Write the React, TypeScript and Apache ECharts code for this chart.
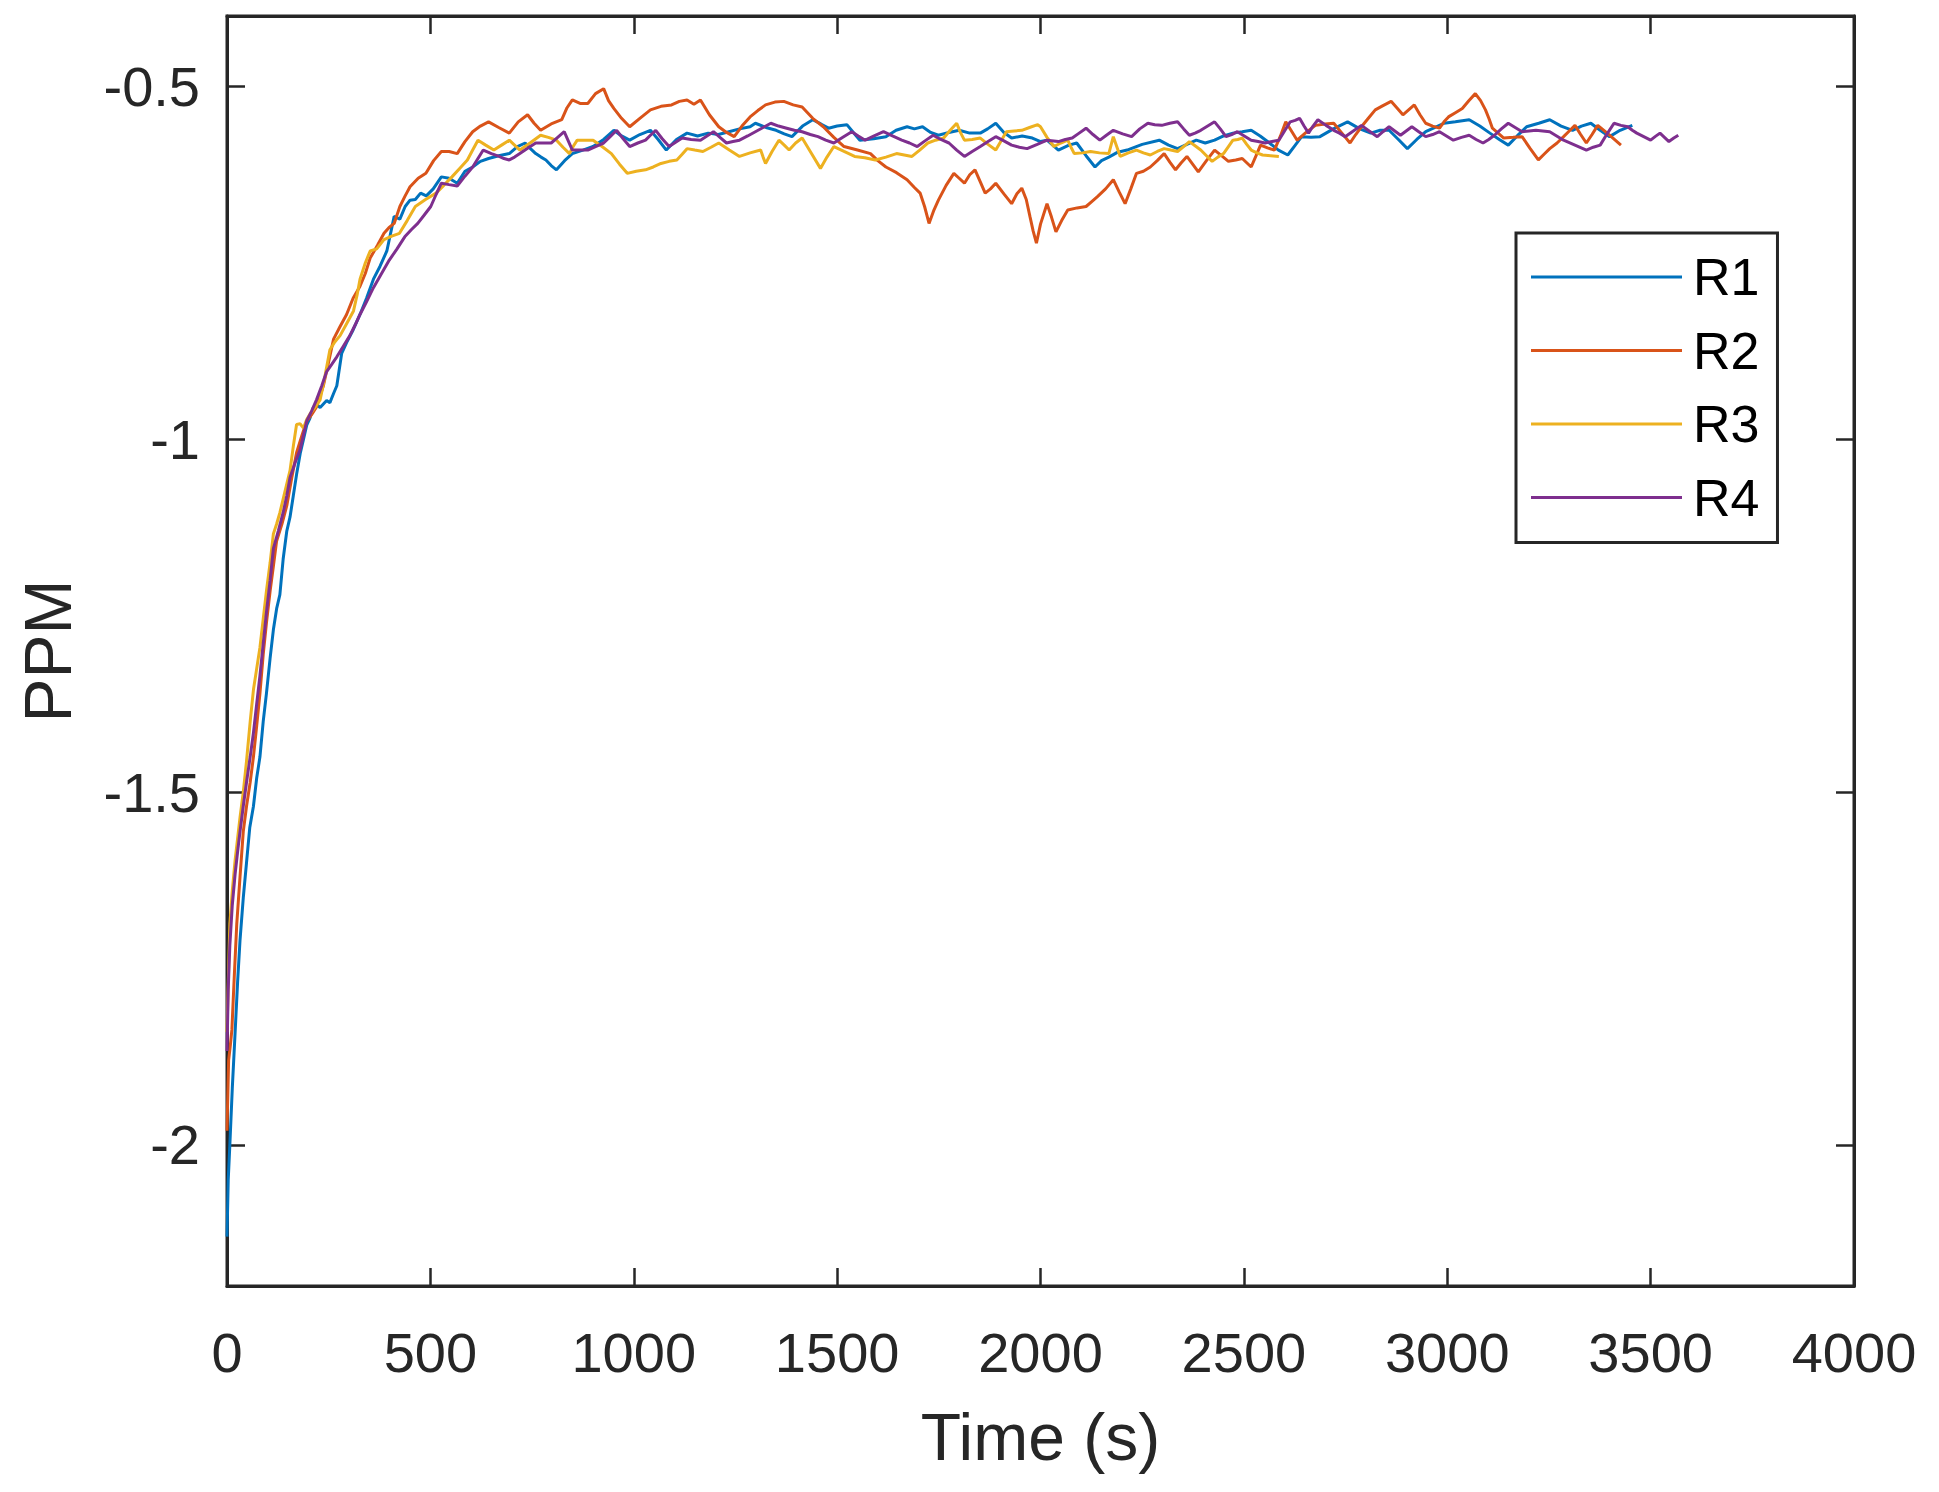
import React, { useEffect, useRef } from "react";
import * as echarts from "echarts";

const xTicks = [0, 500, 1000, 1500, 2000, 2500, 3000, 3500, 4000];
const yTicks = [-2, -1.5, -1, -0.5];
const seriesNames = ["R1", "R2", "R3", "R4"];
const seriesColors = ["#0072BD", "#D95319", "#EDB120", "#7E2F8E"];

const R1 = [[0,-2.13],[3,-2.05],[7,-2.0],[13,-1.92],[20,-1.84],[26,-1.77],[32,-1.71],[40,-1.65],[48,-1.6],[56,-1.55],[65,-1.52],[73,-1.48],[81,-1.45],[89,-1.4],[97,-1.36],[106,-1.31],[114,-1.27],[122,-1.24],[130,-1.22],[138,-1.17],[147,-1.13],[155,-1.11],[163,-1.08],[171,-1.05],[180,-1.02],[188,-1.0],[196,-0.98],[204,-0.97],[212,-0.955],[220,-0.95],[229,-0.955],[237,-0.95],[245,-0.945],[253,-0.948],[262,-0.935],[270,-0.924],[282,-0.878],[294,-0.863],[310,-0.845],[327,-0.823],[343,-0.8],[360,-0.773],[376,-0.755],[393,-0.733],[411,-0.684],[425,-0.688],[438,-0.67],[450,-0.661],[463,-0.66],[476,-0.651],[490,-0.655],[507,-0.645],[527,-0.628],[546,-0.63],[566,-0.637],[585,-0.62],[604,-0.614],[623,-0.606],[643,-0.602],[668,-0.598],[694,-0.595],[714,-0.585],[733,-0.58],[746,-0.588],[759,-0.595],[772,-0.6],[784,-0.604],[797,-0.612],[810,-0.618],[830,-0.605],[849,-0.595],[875,-0.59],[900,-0.585],[926,-0.575],[951,-0.562],[970,-0.57],[990,-0.576],[1015,-0.568],[1041,-0.562],[1060,-0.575],[1080,-0.59],[1105,-0.575],[1131,-0.566],[1157,-0.57],[1183,-0.566],[1208,-0.568],[1234,-0.564],[1260,-0.56],[1286,-0.557],[1299,-0.552],[1325,-0.558],[1350,-0.562],[1370,-0.567],[1389,-0.571],[1415,-0.556],[1440,-0.547],[1460,-0.553],[1479,-0.559],[1500,-0.556],[1524,-0.554],[1540,-0.565],[1556,-0.576],[1590,-0.574],[1620,-0.571],[1645,-0.562],[1672,-0.557],[1690,-0.56],[1710,-0.557],[1730,-0.565],[1749,-0.569],[1775,-0.565],[1800,-0.562],[1826,-0.566],[1852,-0.566],[1870,-0.56],[1890,-0.552],[1910,-0.565],[1929,-0.573],[1955,-0.57],[1980,-0.573],[2000,-0.578],[2016,-0.576],[2044,-0.59],[2070,-0.583],[2089,-0.58],[2112,-0.598],[2134,-0.614],[2150,-0.605],[2168,-0.6],[2190,-0.593],[2213,-0.59],[2250,-0.582],[2292,-0.576],[2315,-0.583],[2337,-0.588],[2360,-0.582],[2383,-0.576],[2405,-0.58],[2428,-0.576],[2450,-0.57],[2473,-0.566],[2496,-0.564],[2518,-0.562],[2540,-0.57],[2563,-0.58],[2585,-0.59],[2608,-0.597],[2625,-0.584],[2642,-0.571],[2665,-0.572],[2687,-0.571],[2720,-0.56],[2755,-0.55],[2785,-0.56],[2812,-0.566],[2835,-0.562],[2857,-0.562],[2880,-0.575],[2902,-0.588],[2925,-0.575],[2947,-0.564],[2970,-0.558],[2992,-0.552],[3020,-0.55],[3054,-0.547],[3080,-0.556],[3105,-0.566],[3128,-0.575],[3150,-0.583],[3172,-0.57],[3195,-0.557],[3225,-0.552],[3252,-0.547],[3280,-0.556],[3308,-0.562],[3330,-0.556],[3353,-0.552],[3376,-0.562],[3399,-0.571],[3425,-0.562],[3455,-0.555]];

const R2 = [[0,-1.98],[4,-1.88],[8,-1.86],[12,-1.837],[18,-1.76],[24,-1.687],[32,-1.62],[40,-1.556],[48,-1.52],[57,-1.486],[65,-1.45],[73,-1.406],[81,-1.36],[89,-1.305],[97,-1.26],[106,-1.215],[114,-1.18],[122,-1.144],[135,-1.12],[147,-1.094],[159,-1.055],[171,-1.019],[184,-0.995],[196,-0.974],[208,-0.965],[220,-0.954],[237,-0.924],[250,-0.89],[262,-0.858],[278,-0.84],[294,-0.823],[310,-0.8],[327,-0.783],[340,-0.765],[352,-0.743],[370,-0.725],[386,-0.708],[398,-0.7],[411,-0.694],[425,-0.67],[438,-0.655],[450,-0.642],[470,-0.63],[489,-0.623],[508,-0.605],[527,-0.592],[546,-0.592],[566,-0.595],[585,-0.578],[604,-0.564],[623,-0.556],[643,-0.55],[668,-0.558],[694,-0.566],[716,-0.55],[739,-0.54],[755,-0.552],[771,-0.562],[797,-0.553],[823,-0.547],[836,-0.53],[849,-0.519],[868,-0.524],[887,-0.524],[906,-0.51],[926,-0.503],[938,-0.52],[951,-0.531],[970,-0.545],[990,-0.557],[1015,-0.545],[1041,-0.533],[1067,-0.528],[1093,-0.526],[1112,-0.521],[1131,-0.519],[1148,-0.525],[1164,-0.519],[1186,-0.54],[1209,-0.557],[1228,-0.565],[1247,-0.571],[1266,-0.556],[1286,-0.543],[1305,-0.534],[1324,-0.526],[1347,-0.522],[1369,-0.521],[1392,-0.526],[1414,-0.529],[1440,-0.545],[1466,-0.557],[1492,-0.572],[1517,-0.585],[1550,-0.59],[1582,-0.595],[1600,-0.605],[1620,-0.614],[1646,-0.622],[1672,-0.632],[1690,-0.643],[1704,-0.651],[1715,-0.67],[1726,-0.694],[1738,-0.675],[1749,-0.661],[1768,-0.64],[1787,-0.623],[1800,-0.63],[1813,-0.637],[1826,-0.625],[1839,-0.618],[1852,-0.635],[1864,-0.651],[1877,-0.645],[1890,-0.637],[1910,-0.652],[1929,-0.666],[1942,-0.652],[1954,-0.644],[1965,-0.66],[1974,-0.684],[1982,-0.705],[1990,-0.722],[2000,-0.695],[2016,-0.666],[2027,-0.685],[2038,-0.706],[2052,-0.69],[2067,-0.675],[2090,-0.672],[2112,-0.67],[2126,-0.663],[2140,-0.656],[2160,-0.645],[2179,-0.632],[2194,-0.65],[2208,-0.666],[2222,-0.645],[2236,-0.623],[2253,-0.62],[2270,-0.614],[2287,-0.605],[2304,-0.595],[2318,-0.607],[2332,-0.618],[2346,-0.608],[2360,-0.599],[2374,-0.61],[2388,-0.621],[2408,-0.605],[2428,-0.59],[2445,-0.598],[2462,-0.606],[2480,-0.604],[2496,-0.602],[2507,-0.608],[2518,-0.614],[2530,-0.598],[2541,-0.583],[2558,-0.587],[2575,-0.59],[2590,-0.57],[2603,-0.55],[2617,-0.563],[2631,-0.576],[2653,-0.565],[2676,-0.555],[2700,-0.553],[2721,-0.552],[2741,-0.566],[2761,-0.58],[2775,-0.568],[2789,-0.557],[2806,-0.545],[2823,-0.533],[2842,-0.527],[2862,-0.521],[2876,-0.53],[2891,-0.54],[2905,-0.533],[2919,-0.526],[2933,-0.54],[2947,-0.552],[2964,-0.556],[2981,-0.559],[2992,-0.55],[3003,-0.543],[3020,-0.537],[3037,-0.531],[3053,-0.52],[3069,-0.51],[3082,-0.52],[3094,-0.533],[3103,-0.546],[3111,-0.559],[3125,-0.566],[3139,-0.573],[3162,-0.572],[3184,-0.571],[3204,-0.588],[3224,-0.604],[3238,-0.596],[3252,-0.588],[3270,-0.58],[3286,-0.571],[3300,-0.563],[3314,-0.555],[3328,-0.568],[3342,-0.58],[3356,-0.568],[3370,-0.555],[3385,-0.562],[3399,-0.569],[3413,-0.576],[3427,-0.583]];

const R3 = [[0,-1.84],[4,-1.75],[7,-1.687],[13,-1.64],[20,-1.596],[26,-1.566],[32,-1.536],[40,-1.5],[48,-1.456],[57,-1.4],[65,-1.355],[73,-1.325],[81,-1.295],[89,-1.255],[97,-1.215],[106,-1.175],[114,-1.134],[122,-1.12],[130,-1.104],[142,-1.075],[155,-1.044],[163,-1.01],[171,-0.979],[180,-0.978],[188,-0.984],[196,-0.972],[204,-0.964],[216,-0.955],[229,-0.944],[241,-0.91],[253,-0.873],[265,-0.862],[278,-0.853],[295,-0.835],[311,-0.818],[320,-0.795],[327,-0.773],[340,-0.75],[352,-0.733],[368,-0.73],[386,-0.717],[405,-0.712],[424,-0.708],[443,-0.69],[463,-0.67],[488,-0.66],[514,-0.651],[533,-0.64],[553,-0.628],[572,-0.616],[591,-0.604],[604,-0.59],[617,-0.576],[636,-0.583],[656,-0.59],[675,-0.583],[694,-0.576],[707,-0.583],[720,-0.59],[745,-0.58],[771,-0.569],[790,-0.572],[810,-0.576],[826,-0.586],[842,-0.595],[851,-0.585],[861,-0.576],[880,-0.576],[900,-0.576],[922,-0.585],[945,-0.595],[965,-0.61],[984,-0.623],[1006,-0.62],[1029,-0.618],[1048,-0.614],[1067,-0.609],[1087,-0.606],[1106,-0.604],[1119,-0.596],[1131,-0.588],[1150,-0.59],[1170,-0.592],[1190,-0.586],[1209,-0.58],[1235,-0.59],[1260,-0.599],[1286,-0.594],[1312,-0.59],[1318,-0.6],[1324,-0.609],[1340,-0.592],[1357,-0.576],[1370,-0.583],[1382,-0.59],[1398,-0.58],[1414,-0.573],[1437,-0.595],[1459,-0.616],[1475,-0.6],[1492,-0.585],[1517,-0.592],[1543,-0.599],[1568,-0.601],[1594,-0.604],[1620,-0.6],[1646,-0.595],[1665,-0.597],[1684,-0.599],[1703,-0.59],[1723,-0.58],[1742,-0.576],[1762,-0.573],[1778,-0.562],[1794,-0.552],[1803,-0.565],[1813,-0.576],[1832,-0.575],[1852,-0.573],[1871,-0.582],[1890,-0.59],[1903,-0.577],[1916,-0.564],[1935,-0.563],[1954,-0.562],[1973,-0.558],[1993,-0.554],[2000,-0.557],[2016,-0.572],[2033,-0.585],[2050,-0.58],[2067,-0.576],[2075,-0.586],[2083,-0.595],[2103,-0.594],[2123,-0.592],[2145,-0.594],[2168,-0.595],[2179,-0.571],[2196,-0.599],[2216,-0.594],[2236,-0.59],[2253,-0.594],[2270,-0.597],[2287,-0.592],[2304,-0.588],[2320,-0.59],[2337,-0.592],[2352,-0.585],[2366,-0.578],[2380,-0.584],[2394,-0.59],[2408,-0.598],[2422,-0.606],[2436,-0.6],[2450,-0.595],[2462,-0.585],[2473,-0.576],[2485,-0.575],[2496,-0.573],[2507,-0.582],[2518,-0.59],[2532,-0.594],[2546,-0.597],[2566,-0.598],[2586,-0.599]];

const R4 = [[0,-1.867],[3,-1.78],[7,-1.717],[13,-1.66],[20,-1.616],[26,-1.585],[32,-1.556],[40,-1.52],[48,-1.486],[57,-1.45],[65,-1.416],[73,-1.375],[81,-1.335],[89,-1.29],[97,-1.245],[106,-1.2],[114,-1.155],[126,-1.13],[138,-1.104],[147,-1.08],[155,-1.054],[167,-1.034],[180,-1.014],[188,-0.994],[196,-0.974],[208,-0.96],[220,-0.944],[233,-0.924],[245,-0.904],[257,-0.894],[270,-0.883],[286,-0.868],[302,-0.853],[315,-0.838],[327,-0.823],[343,-0.805],[360,-0.785],[380,-0.765],[399,-0.746],[418,-0.73],[437,-0.713],[453,-0.703],[469,-0.694],[485,-0.682],[501,-0.67],[514,-0.653],[527,-0.637],[546,-0.639],[566,-0.641],[585,-0.627],[604,-0.614],[617,-0.602],[630,-0.59],[650,-0.595],[669,-0.599],[681,-0.602],[694,-0.604],[707,-0.6],[720,-0.595],[740,-0.587],[759,-0.58],[778,-0.58],[797,-0.58],[813,-0.572],[829,-0.564],[839,-0.577],[849,-0.59],[868,-0.59],[887,-0.59],[906,-0.585],[926,-0.58],[942,-0.571],[958,-0.562],[974,-0.574],[990,-0.585],[1010,-0.58],[1029,-0.576],[1041,-0.569],[1054,-0.562],[1070,-0.574],[1087,-0.585],[1103,-0.579],[1119,-0.573],[1141,-0.575],[1164,-0.576],[1180,-0.57],[1196,-0.564],[1212,-0.572],[1228,-0.58],[1244,-0.578],[1260,-0.576],[1280,-0.57],[1299,-0.564],[1318,-0.558],[1337,-0.552],[1356,-0.556],[1376,-0.559],[1395,-0.562],[1414,-0.564],[1434,-0.568],[1453,-0.571],[1472,-0.576],[1492,-0.58],[1514,-0.572],[1536,-0.564],[1552,-0.57],[1569,-0.576],[1591,-0.57],[1614,-0.564],[1636,-0.57],[1659,-0.576],[1678,-0.58],[1697,-0.585],[1716,-0.577],[1736,-0.569],[1755,-0.575],[1775,-0.58],[1794,-0.59],[1813,-0.599],[1832,-0.592],[1852,-0.585],[1871,-0.578],[1890,-0.571],[1910,-0.577],[1929,-0.583],[1948,-0.586],[1967,-0.588],[1992,-0.582],[2016,-0.576],[2044,-0.578],[2061,-0.575],[2078,-0.573],[2095,-0.566],[2112,-0.559],[2129,-0.568],[2146,-0.576],[2162,-0.569],[2179,-0.562],[2202,-0.567],[2224,-0.571],[2244,-0.56],[2264,-0.552],[2281,-0.554],[2298,-0.555],[2318,-0.552],[2337,-0.55],[2352,-0.56],[2366,-0.569],[2380,-0.566],[2394,-0.562],[2411,-0.556],[2428,-0.55],[2442,-0.56],[2456,-0.571],[2470,-0.568],[2484,-0.564],[2501,-0.57],[2518,-0.576],[2535,-0.578],[2552,-0.58],[2569,-0.578],[2586,-0.576],[2600,-0.563],[2614,-0.55],[2626,-0.548],[2637,-0.545],[2648,-0.556],[2659,-0.566],[2670,-0.556],[2682,-0.547],[2702,-0.555],[2721,-0.562],[2735,-0.566],[2749,-0.571],[2769,-0.563],[2789,-0.555],[2808,-0.563],[2828,-0.571],[2842,-0.564],[2857,-0.557],[2871,-0.563],[2885,-0.569],[2899,-0.563],[2913,-0.557],[2930,-0.564],[2947,-0.571],[2964,-0.568],[2981,-0.564],[2998,-0.57],[3015,-0.576],[3035,-0.572],[3054,-0.569],[3071,-0.575],[3088,-0.58],[3102,-0.575],[3116,-0.569],[3133,-0.56],[3150,-0.552],[3167,-0.558],[3184,-0.564],[3201,-0.563],[3218,-0.562],[3235,-0.563],[3252,-0.564],[3269,-0.57],[3286,-0.576],[3314,-0.583],[3342,-0.59],[3359,-0.586],[3376,-0.583],[3393,-0.567],[3410,-0.552],[3427,-0.555],[3444,-0.557],[3455,-0.562],[3466,-0.566],[3483,-0.571],[3500,-0.576],[3511,-0.571],[3523,-0.566],[3534,-0.572],[3545,-0.578],[3557,-0.573],[3568,-0.569]];

const seriesData = [R1, R2, R3, R4];

const AX = "#262626";
const FONT = "Liberation Sans, Arial, Helvetica, sans-serif";

export default function App() {
  const ref = useRef<HTMLDivElement>(null);
  useEffect(() => {
    if (!ref.current) return;
    const chart = echarts.init(ref.current, undefined, { renderer: "svg" });
    const tick = (vals: number[]) => ({
      show: true,
      inside: true,
      length: 18,
      customValues: vals,
      lineStyle: { color: AX, width: 2.5 },
    });
    const plain = (v: number) => String(v);
    chart.setOption({
      animation: false,
      backgroundColor: "#ffffff",
      grid: {
        left: 227,
        top: 16,
        width: 1627,
        height: 1270,
        show: true,
        borderColor: AX,
        borderWidth: 3,
        backgroundColor: "#ffffff",
      },
      legend: {
        left: 1516,
        top: 233,
        orient: "vertical",
        icon: "rect",
        itemWidth: 151,
        itemHeight: 3,
        itemGap: 21.5,
        padding: [18, 18, 19, 15],
        backgroundColor: "#ffffff",
        borderColor: AX,
        borderWidth: 3,
        borderRadius: 0,
        data: seriesNames,
        textStyle: {
          fontFamily: FONT,
          fontSize: 52,
          lineHeight: 52,
          color: "#000000",
          padding: [0, 0, 0, 6],
        },
      },
      xAxis: [
        {
          type: "value",
          min: 0,
          max: 4000,
          interval: 500,
          position: "bottom",
          name: "Time (s)",
          nameLocation: "middle",
          nameGap: 118,
          nameTextStyle: { fontFamily: FONT, fontSize: 66, color: AX },
          axisLine: { show: true, onZero: false, lineStyle: { color: AX, width: 3 } },
          axisTick: tick(xTicks),
          axisLabel: {
            customValues: xTicks,
            formatter: plain,
            margin: 38,
            fontFamily: FONT,
            fontSize: 56,
            color: AX,
          },
          splitLine: { show: false },
        },
        {
          type: "value",
          min: 0,
          max: 4000,
          interval: 500,
          position: "top",
          axisLine: { show: true, onZero: false, lineStyle: { color: AX, width: 3 } },
          axisTick: tick(xTicks),
          axisLabel: { show: false },
          splitLine: { show: false },
        },
      ],
      yAxis: [
        {
          type: "value",
          min: -2.2,
          max: -0.4,
          position: "left",
          name: "PPM",
          nameLocation: "middle",
          nameGap: 146,
          nameTextStyle: { fontFamily: FONT, fontSize: 66, color: AX },
          axisLine: { show: true, onZero: false, lineStyle: { color: AX, width: 3 } },
          axisTick: tick(yTicks),
          axisLabel: {
            customValues: yTicks,
            formatter: plain,
            margin: 27,
            fontFamily: FONT,
            fontSize: 56,
            color: AX,
          },
          splitLine: { show: false },
        },
        {
          type: "value",
          min: -2.2,
          max: -0.4,
          position: "right",
          axisLine: { show: true, onZero: false, lineStyle: { color: AX, width: 3 } },
          axisTick: tick(yTicks),
          axisLabel: { show: false },
          splitLine: { show: false },
        },
      ],
      series: seriesData.map((d, i) => ({
        name: seriesNames[i],
        type: "line",
        xAxisIndex: 0,
        yAxisIndex: 0,
        data: d,
        showSymbol: false,
        symbol: "none",
        lineStyle: { color: seriesColors[i], width: 3 },
        itemStyle: { color: seriesColors[i] },
        z: 2 + i,
      })),
    });
    return () => chart.dispose();
  }, []);
  return (
    <div
      ref={ref}
      style={{ position: "fixed", left: 0, top: 0, width: 1939, height: 1492, background: "#fff" }}
    />
  );
}
